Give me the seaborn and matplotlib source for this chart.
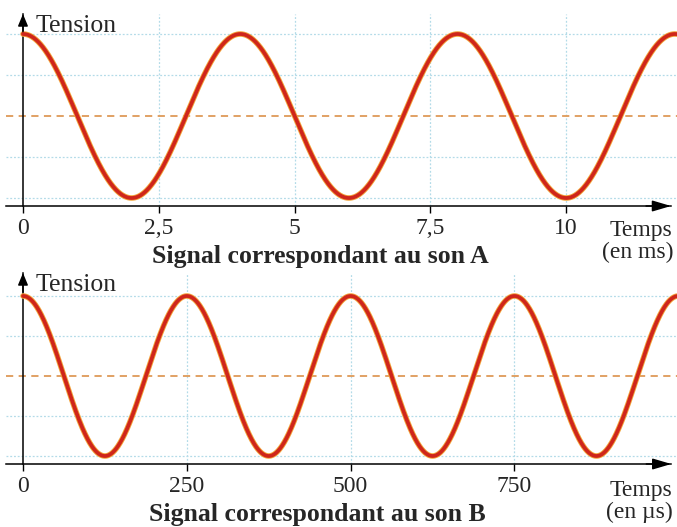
import numpy as np
import pandas as pd
import matplotlib
matplotlib.use("Agg")
import matplotlib.pyplot as plt
import seaborn as sns

# ---- data ----
period_A_ms = 4.0          # son A : peaks at 0, 4, 8, 12 ms
period_B_us = 250.0        # son B : peaks at 0, 250, 500, 750, 1000 µs
amplitude = 1.0
ticks_A = [0, 2.5, 5, 7.5, 10]
ticklabels_A = ["0", "2,5", "5", "7,5", "10"]
ticks_B = [0, 250, 500, 750]
ticklabels_B = ["0", "250", "500", "750"]
grid_levels = [-1.0, -0.5, 0.5, 1.0]
title_A = "Signal correspondant au son A"
title_B = "Signal correspondant au son B"
unit_A = "(en ms)"
unit_B = "(en µs)"

sns.set_theme(style="white")
plt.rcParams["font.family"] = ["Liberation Serif", "DejaVu Serif"]

W, H = 677, 527
fig = plt.figure(figsize=(W / 100, H / 100), dpi=100)

RED = "#cf261b"
EDGE = "#f2a43a"
DASH = "#de9a58"
GRID = "#b3dbe8"


def panel(px_left, px_right, px_top, px_axis, x0_px, px_per_unit, xmax,
          y_peak_px, y_trough_px, period, ticks, ticklabels, arrow_px=672):
    ax = fig.add_axes([px_left / W, 1 - px_axis / H,
                       (px_right - px_left) / W, (px_axis - px_top) / H])
    xmin = -(x0_px - px_left) / px_per_unit
    amp_px = (y_trough_px - y_peak_px) / 2
    ylo = -1 - (px_axis - y_trough_px) / amp_px
    yhi = 1 + (y_peak_px - px_top) / amp_px
    t = np.linspace(0, xmax, 1500)
    df = pd.DataFrame({"t": t, "v": amplitude * np.cos(2 * np.pi * t / period)})
    for yv in grid_levels:
        ax.axhline(yv, color=GRID, lw=0.9, ls=(0, (1.5, 1.5)), zorder=1)
    for xv in ticks[1:]:
        ax.axvline(xv, color=GRID, lw=0.9, ls=(0, (1.5, 1.5)), zorder=1)
    ax.axhline(0, color=DASH, lw=1.3, ls=(0, (4, 3)), zorder=2)
    sns.lineplot(data=df, x="t", y="v", ax=ax, color=EDGE, lw=4.0, zorder=3)
    sns.lineplot(data=df, x="t", y="v", ax=ax, color=RED, lw=2.7, zorder=4)
    ax.set_xlim(xmin, xmax)
    ax.set_ylim(ylo, yhi)
    ax.set_xlabel("")
    ax.set_ylabel("")
    ax.set_yticks([])
    ax.set_xticks(ticks)
    ax.set_xticklabels(ticklabels)
    ax.tick_params(axis="x", direction="out", length=5, width=1.0,
                   color="black", labelsize=17, pad=4, bottom=True)
    for s in ["top", "right"]:
        ax.spines[s].set_visible(False)
    ax.spines["left"].set_position(("data", 0))
    for s in ["left", "bottom"]:
        ax.spines[s].set_color("black")
        ax.spines[s].set_linewidth(1.1)
    x_tip = xmin + (arrow_px - px_left) / px_per_unit
    ax.spines["bottom"].set_bounds(xmin, x_tip)
    ax.annotate("", xy=(x_tip, 0), xycoords=ax.get_xaxis_transform(),
                xytext=(x_tip - 25 / px_per_unit, 0),
                textcoords=ax.get_xaxis_transform(),
                arrowprops=dict(arrowstyle="-|>,head_length=0.95,head_width=0.28",
                                color="black", lw=1.1, shrinkA=0, shrinkB=0),
                annotation_clip=False)
    ax.annotate("", xy=(0, 1), xycoords=ax.get_xaxis_transform(),
                xytext=(0, 0.9), textcoords=ax.get_xaxis_transform(),
                arrowprops=dict(arrowstyle="-|>,head_length=0.6,head_width=0.25",
                                color="black", lw=1.1, shrinkA=0, shrinkB=0),
                annotation_clip=False)
    ax.patch.set_alpha(0)
    return ax


# top panel (son A)
panel(6, 677, 14, 206, 23, 136 / 2.5, 12.04, 34, 198,
      period_A_ms, ticks_A, ticklabels_A)
# bottom panel (son B)
panel(6, 677, 273, 464, 23, 164 / 250, 998, 296, 456,
      period_B_us, ticks_B, ticklabels_B)

fs = 18.5
fu = 17
fig.text(36 / W, 1 - 32 / H, "Tension", fontsize=fs, ha="left", va="baseline")
fig.text(36 / W, 1 - 291 / H, "Tension", fontsize=fs, ha="left", va="baseline")
fig.text(672 / W, 1 - 236 / H, "Temps", fontsize=fu, ha="right", va="baseline")
fig.text(673 / W, 1 - 258 / H, unit_A, fontsize=fu, ha="right", va="baseline")
fig.text(672 / W, 1 - 496 / H, "Temps", fontsize=fu, ha="right", va="baseline")
fig.text(673 / W, 1 - 518 / H, unit_B, fontsize=fu, ha="right", va="baseline")
fig.text(320 / W, 1 - 256 / H, title_A, fontsize=18.5, fontweight="bold",
         ha="center", va="center")
fig.text(317 / W, 1 - 514 / H, title_B, fontsize=18.5, fontweight="bold",
         ha="center", va="center")

fig.savefig("out.png", dpi=100, facecolor="white")
